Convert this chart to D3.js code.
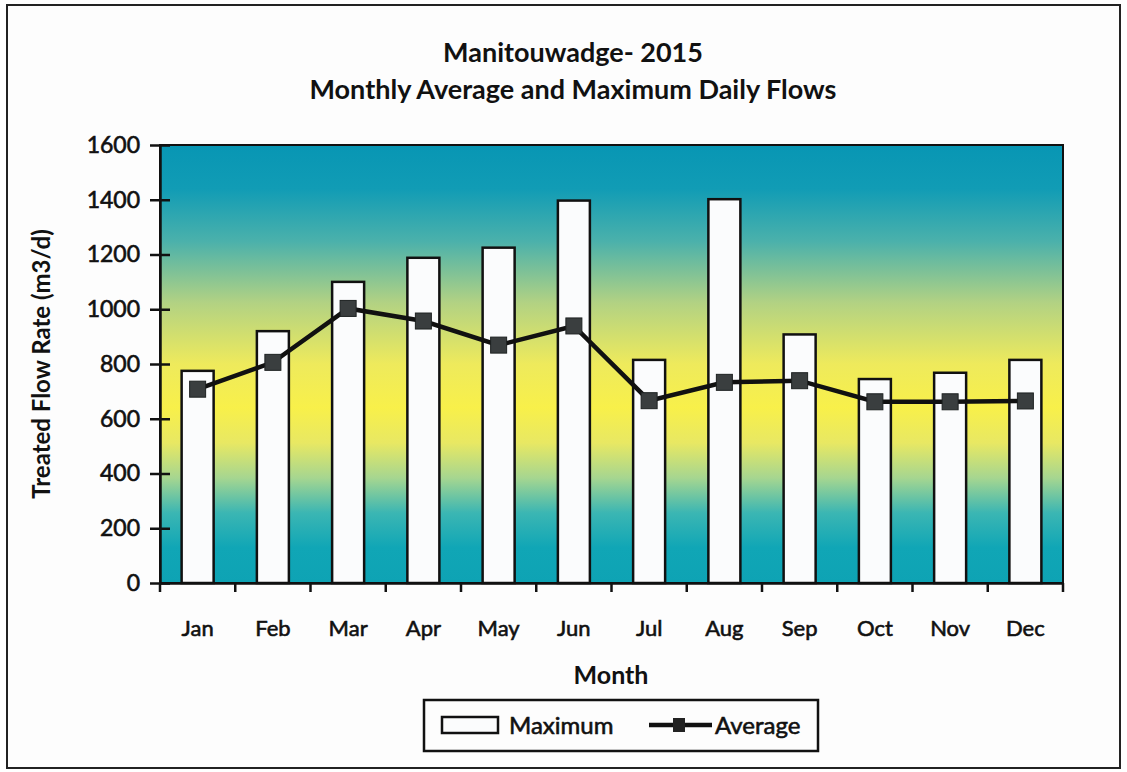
<!DOCTYPE html>
<html>
<head>
<meta charset="utf-8">
<script src="https://cdn.jsdelivr.net/npm/d3@7"></script>
<style>
    body { margin: 0; background: #ffffff; }
    svg text { font-family: Lato, "Open Sans", sans-serif; fill: #111; }
    svg text.heavy { stroke: #111; stroke-width: 0.6px; }
</style>
</head>
<body>
<svg id="chart" width="1127" height="772"></svg>
<script>
"use strict";

const months = ["Jan", "Feb", "Mar", "Apr", "May", "Jun", "Jul", "Aug", "Sep", "Oct", "Nov", "Dec"];
const maximumFlow = [775, 920, 1100, 1188, 1225, 1397, 815, 1402, 908, 745, 768, 815];
const averageFlow = [708, 806, 1003, 957, 869, 939, 666, 733, 739, 662, 662, 665];
const yTicks = [0, 200, 400, 600, 800, 1000, 1200, 1400, 1600];

const svg = d3.select("#chart");
const margin = {left: 160, right: 64, top: 145, bottom: 189};
const width = 1127 - margin.left - margin.right;
const height = 772 - margin.top - margin.bottom;

// outer frame
svg.append("rect")
    .attr("x", 7).attr("y", 5)
    .attr("width", 1113).attr("height", 763)
    .attr("fill", "#fdfdfd")
    .attr("stroke", "#222").attr("stroke-width", 2);

// background gradient of the plot area
let grad = svg.append("defs").append("linearGradient")
    .attr("id", "bg").attr("x1", 0).attr("y1", 0).attr("x2", 0).attr("y2", 1);
[[0, "#0896b4"], [0.1, "#119cb5"], [0.22, "#4bb1ab"], [0.36, "#b2d283"], [0.5, "#eeea5c"],
    [0.6, "#f8f04a"], [0.68, "#e8e863"], [0.76, "#a6d690"], [0.84, "#3bb6b3"], [0.92, "#10a6b6"], [1, "#0ea3b4"]]
    .forEach(function (s) {
        grad.append("stop").attr("offset", s[0]).attr("stop-color", s[1]);
    });

let x = d3.scaleBand().domain(months).range([0, width]);
let y = d3.scaleLinear().domain([0, 1600]).range([height, 0]);

let chart = svg.append("g").attr("transform", "translate(" + margin.left + "," + margin.top + ")");

chart.append("rect")
    .attr("width", width).attr("height", height)
    .attr("fill", "url(#bg)");

// bars for the maximum
const BAR_WIDTH = 32;
chart.selectAll(".bar")
    .data(months)
    .enter().append("rect")
    .attr("class", "bar")
    .attr("x", function (d) { return x(d) + x.bandwidth() / 2 - BAR_WIDTH / 2; })
    .attr("y", function (d, i) { return y(maximumFlow[i]); })
    .attr("width", BAR_WIDTH)
    .attr("height", function (d, i) { return height - y(maximumFlow[i]); })
    .attr("fill", "#fbfcfd")
    .attr("stroke", "#111")
    .attr("stroke-width", 2.5);

// plot border
chart.append("rect")
    .attr("width", width).attr("height", height)
    .attr("fill", "none").attr("stroke", "#111").attr("stroke-width", 2);

// y axis
let yAxis = chart.append("g")
    .call(d3.axisLeft(y).tickValues(yTicks).tickFormat(d3.format("d"))
        .tickSizeInner(10).tickSizeOuter(0).tickPadding(10));
yAxis.select(".domain").attr("stroke", "#111").attr("stroke-width", 2.5);
yAxis.selectAll(".tick line").attr("x2", 10).attr("x1", -10).attr("stroke", "#111").attr("stroke-width", 2.5);
yAxis.selectAll(".tick text")
    .attr("class", "heavy")
    .style("font-size", "23px").attr("x", -20);

// x axis with ticks between months
let xAxis = chart.append("g")
    .attr("transform", "translate(0," + height + ")")
    .call(d3.axisBottom(x).tickSize(0).tickPadding(37));
xAxis.select(".domain").attr("stroke", "#111").attr("stroke-width", 2.5);
xAxis.selectAll(".tick text")
    .attr("class", "heavy")
    .style("font-size", "22px");
xAxis.selectAll(".sep")
    .data(d3.range(months.length + 1))
    .enter().append("line")
    .attr("class", "sep")
    .attr("x1", function (k) { return k * x.step(); })
    .attr("x2", function (k) { return k * x.step(); })
    .attr("y1", 0).attr("y2", 9)
    .attr("stroke", "#111").attr("stroke-width", 2.5);

// average line and markers
let line = d3.line()
    .x(function (d, i) { return x(months[i]) + x.bandwidth() / 2; })
    .y(function (d) { return y(d); });
chart.append("path")
    .datum(averageFlow)
    .attr("d", line)
    .attr("fill", "none")
    .attr("stroke", "#111")
    .attr("stroke-width", 4.5);
chart.selectAll(".marker")
    .data(averageFlow)
    .enter().append("rect")
    .attr("class", "marker")
    .attr("x", function (d, i) { return x(months[i]) + x.bandwidth() / 2 - 8; })
    .attr("y", function (d) { return y(d) - 8; })
    .attr("width", 16).attr("height", 16)
    .attr("fill", "#3a3e3f")
    .attr("stroke", "#1e2222").attr("stroke-width", 1);

// titles
svg.append("text")
    .attr("x", 573).attr("y", 62)
    .attr("text-anchor", "middle")
    .style("font-size", "27px").style("font-weight", "bold")
    .text("Manitouwadge- 2015");
svg.append("text")
    .attr("x", 573).attr("y", 99)
    .attr("text-anchor", "middle")
    .style("font-size", "27px").style("font-weight", "bold")
    .text("Monthly Average and Maximum Daily Flows");
svg.append("text")
    .attr("x", 611).attr("y", 684)
    .attr("text-anchor", "middle")
    .style("font-size", "25px").style("font-weight", "bold")
    .text("Month");
svg.append("text")
    .attr("transform", "translate(50," + (margin.top + height / 2) + ") rotate(-90)")
    .attr("text-anchor", "middle")
    .style("font-size", "24px").style("font-weight", "bold")
    .text("Treated Flow Rate (m3/d)");

// legend
let legend = svg.append("g").attr("transform", "translate(424,700)");
legend.append("rect")
    .attr("width", 394).attr("height", 51)
    .attr("fill", "#fdfdfd").attr("stroke", "#111").attr("stroke-width", 2.5);
legend.append("rect")
    .attr("x", 18).attr("y", 17).attr("width", 56).attr("height", 16)
    .attr("fill", "#fbfcfd").attr("stroke", "#111").attr("stroke-width", 2.5);
legend.append("text")
    .attr("class", "heavy")
    .attr("x", 85).attr("y", 34)
    .style("font-size", "24px")
    .text("Maximum");
legend.append("line")
    .attr("x1", 225).attr("x2", 288).attr("y1", 25).attr("y2", 25)
    .attr("stroke", "#111").attr("stroke-width", 4.5);
legend.append("rect")
    .attr("x", 249).attr("y", 18).attr("width", 12).attr("height", 14)
    .attr("fill", "#222");
legend.append("text")
    .attr("class", "heavy")
    .attr("x", 291).attr("y", 34)
    .style("font-size", "24px")
    .text("Average");
</script>
</body>
</html>
